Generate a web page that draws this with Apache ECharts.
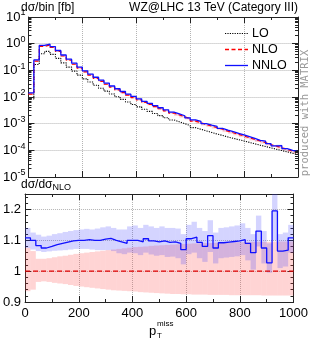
<!DOCTYPE html>
<html><head><meta charset="utf-8">
<script src="https://cdn.jsdelivr.net/npm/echarts@6/dist/echarts.min.js"></script>
<style>html,body{margin:0;padding:0;background:#fff}#c{width:311px;height:340px}</style>
</head><body><div id="c"></div>
<script>
const binEdges = [0,20,40,60,80,100,120,140,160,180,200,220,240,260,280,300,320,340,360,380,400,420,440,460,480,500,520,540,560,580,600,620,640,660,680,700,720,740,760,780,800,820,840,860,880,900,920,940,960,980,1000];

const loVals = [0.0085,0.166,0.417,0.513,0.398,0.282,0.191,0.132,0.0933,0.0661,
0.0479,0.0363,0.0275,0.0214,0.0166,0.0129,0.0102,0.00813,0.00646,0.00525,
0.00427,0.00347,0.00288,0.00240,0.00200,0.00166,0.00138,0.00117,0.00100,0.000851,
0.000708,0.000617,0.000537,0.000468,0.000407,0.000363,0.000316,0.000282,0.000251,0.000224,
0.000198,0.000176,0.000156,0.000139,0.000124,0.000110,0.0000980,0.0000875,0.0000780,0.0000695];

const nloVals = [0.0128,0.223,0.792,0.888,0.722,0.511,0.345,0.239,0.169,0.120,
0.0868,0.0658,0.0500,0.0388,0.0301,0.0234,0.0185,0.0147,0.0117,0.00955,
0.00774,0.00629,0.00523,0.00435,0.00362,0.00301,0.00250,0.00213,0.00182,0.00155,
0.00125,0.00109,0.000927,0.000810,0.000705,0.000615,0.000523,0.000455,0.000397,0.000345,
0.000295,0.000256,0.000223,0.000195,0.000165,0.000144,0.000125,0.000109,0.0000927,0.0000810];

const nnloVals = [0.0142,0.245,0.858,0.955,0.780,0.555,0.376,0.261,0.186,0.132,
0.0955,0.0725,0.0550,0.0427,0.0332,0.0259,0.0204,0.0161,0.0128,0.0105,
0.00851,0.00689,0.00578,0.00478,0.00396,0.00330,0.00273,0.00233,0.00198,0.00166,
0.00138,0.00121,0.00101,0.000875,0.000786,0.000661,0.000571,0.000498,0.000435,0.000379,
0.000325,0.000279,0.000236,0.000220,0.000177,0.000148,0.000149,0.000116,0.0000990,0.0000897];

// ratio panel (relative to NLO)
const ratioNNLO = [1.108,1.100,1.083,1.075,1.080,1.086,1.090,1.094,1.098,1.100,
1.100,1.102,1.100,1.100,1.104,1.106,1.100,1.095,1.090,1.100,
1.100,1.095,1.105,1.098,1.095,1.098,1.093,1.095,1.090,1.070,
1.105,1.110,1.093,1.080,1.115,1.075,1.092,1.094,1.096,1.098,
1.102,1.090,1.060,1.130,1.075,1.027,1.195,1.065,1.068,1.108];
const nnloBandHi = [1.140,1.125,1.118,1.112,1.115,1.120,1.123,1.127,1.130,1.133,
1.135,1.137,1.135,1.138,1.142,1.145,1.140,1.135,1.135,1.145,
1.148,1.140,1.150,1.145,1.140,1.145,1.140,1.140,1.138,1.120,
1.150,1.160,1.140,1.130,1.165,1.125,1.140,1.142,1.145,1.148,
1.155,1.140,1.120,1.180,1.130,1.090,1.300,1.120,1.125,1.150];
const nnloBandLo = [1.075,1.070,1.065,1.062,1.064,1.066,1.067,1.068,1.070,1.072,
1.072,1.072,1.070,1.068,1.068,1.068,1.065,1.058,1.055,1.060,
1.058,1.052,1.060,1.054,1.050,1.052,1.046,1.047,1.042,1.022,
1.055,1.060,1.042,1.030,1.062,1.025,1.042,1.044,1.046,1.048,
1.052,1.035,1.005,1.080,1.025,0.995,1.100,1.010,1.015,1.060];
const nloBandHi = [1.076,1.065,1.040,1.040,1.042,1.045,1.048,1.050,1.053,1.056,
1.058,1.060,1.062,1.064,1.066,1.068,1.070,1.072,1.074,1.076,
1.078,1.079,1.080,1.082,1.083,1.084,1.085,1.086,1.087,1.088,
1.089,1.090,1.090,1.091,1.091,1.092,1.092,1.093,1.093,1.094,
1.094,1.094,1.095,1.095,1.095,1.095,1.096,1.096,1.096,1.096];
const nloBandLo = [0.935,0.940,0.965,0.967,0.965,0.962,0.960,0.958,0.955,0.952,
0.950,0.948,0.946,0.944,0.942,0.940,0.938,0.937,0.936,0.935,
0.934,0.932,0.931,0.930,0.929,0.928,0.927,0.926,0.926,0.925,
0.925,0.924,0.924,0.924,0.923,0.923,0.923,0.923,0.922,0.922,
0.922,0.922,0.922,0.922,0.921,0.921,0.921,0.921,0.921,0.921];

const ratioTicks = [0.9,1.0,1.1,1.2];
const legendNames = ['LO','NLO','NNLO'];

const FONT = "'Liberation Sans', Arial, sans-serif";
const AX = '#222';
const C_LO = '#000', C_NLO = '#ff0000', C_NNLO = '#1010ff';
const DASH_LO = [1.2,1.2], DASH_NLO = [4,2.5];

function stepData(vals){
  const d = vals.map((v,i)=>[binEdges[i], v]);
  d.push([binEdges[binEdges.length-1], vals[vals.length-1]]);
  return d;
}
function bandSeries(xi, yi, lo, hi, color){
  return {
    type:'custom', xAxisIndex:xi, yAxisIndex:yi, silent:true, z:1,
    encode:{x:[0,1], y:[2,3]},
    data: lo.map((l,i)=>[binEdges[i], binEdges[i+1], l, hi[i]]),
    renderItem(params, api){
      const p1 = api.coord([api.value(0), api.value(3)]);
      const p2 = api.coord([api.value(1), api.value(2)]);
      const cs = params.coordSys;
      const r = echarts.graphic.clipRectByRect(
        {x:p1[0], y:p1[1], width:p2[0]-p1[0], height:p2[1]-p1[1]},
        {x:cs.x, y:cs.y, width:cs.width, height:cs.height});
      if(!r) return;
      return {type:'rect', shape:r, style:{fill:color}};
    }
  };
}
// minor log ticks (2..9 x 10^n) for main panel frame
const logMinor = [];
for (let n=-5; n<=0; n++) for (let m=2; m<=9; m++) logMinor.push([0, m*Math.pow(10,n)]);

function xAxisCfg(grid, pos, labels){
  return {gridIndex:grid, type:'value', min:0, max:1000, interval:200, position:pos,
    axisLine:{show:true, onZero:false, lineStyle:{color:AX, width:1}},
    axisTick:{show:true, inside:true, length:6, lineStyle:{color:AX}},
    minorTick:{show:true, splitNumber:2, length:3, lineStyle:{color:AX}},
    axisLabel:{show:labels, fontSize:13, fontFamily:FONT, color:'#000', margin:5, formatter:(v)=>String(v)},
    splitLine:{show:pos==='bottom', lineStyle:{type:'dotted', color:'#b4b4b4', width:1}}
  };
}
function logAxisCfg(pos){
  return {gridIndex:0, type:'log', logBase:10, min:1e-5, max:10, splitNumber:6, position:pos,
    axisLine:{show:true, onZero:false, lineStyle:{color:AX, width:1}},
    axisTick:{show:true, inside:true, length:6, lineStyle:{color:AX}},
    minorTick:{show:false},
    axisLabel:{show:pos==='left', margin:3, fontFamily:FONT, color:'#000',
      formatter:(v)=>'{b|10}{s|'+Math.round(Math.log10(v))+'}',
      rich:{b:{fontSize:13, lineHeight:13, fontFamily:FONT, color:'#000'},
            s:{fontSize:9, lineHeight:9, padding:[0,0,8,0], fontFamily:FONT, color:'#000'}}},
    splitLine:{show:pos==='left', lineStyle:{type:'dotted', color:'#b4b4b4', width:1}}
  };
}
function ratioAxisCfg(pos){
  return {gridIndex:1, type:'value', min:0.9, max:1.25, interval:0.1, position:pos,
    axisLine:{show:true, onZero:false, lineStyle:{color:AX, width:1}},
    axisTick:{show:true, inside:true, length:6, lineStyle:{color:AX}},
    minorTick:{show:true, splitNumber:5, length:3, lineStyle:{color:AX}},
    axisLabel:{show:pos==='left', margin:4, fontSize:13, fontFamily:FONT, color:'#000',
      formatter:(v)=>{ const hit = ratioTicks.find(t=>Math.abs(t-v)<1e-6); return hit===undefined?'':String(+hit.toFixed(1)); }},
    splitLine:{show:pos==='left', lineStyle:{type:'dotted', color:'#b4b4b4', width:1}}
  };
}

// manual legend (line samples + labels)
const legendGraphics = [
  {type:'line', id:'lgLO', z:10, shape:{x1:225, y1:33.5, x2:248, y2:33.5}, style:{stroke:C_LO, lineWidth:1.1, lineDash:DASH_LO}},
  {type:'line', id:'lgNLO', z:10, shape:{x1:225, y1:49.5, x2:248, y2:49.5}, style:{stroke:C_NLO, fill:null, lineWidth:1.3, lineDash:DASH_NLO}},
  {type:'line', id:'lgNNLO', z:10, shape:{x1:225, y1:65.5, x2:248, y2:65.5}, style:{stroke:C_NNLO, lineWidth:1.3}}
];
legendNames.forEach((nm,i)=>{
  legendGraphics.push({type:'text', id:'lgt'+i, x:252, y:33.5 + i*16, z:10, style:{text:nm, font:"12.5px 'Liberation Sans', Arial, sans-serif", fill:'#000', verticalAlign:'middle', align:'left'}});
});

const chart = echarts.init(document.getElementById('c'), null, {renderer:'canvas'});
chart.setOption({
  animation:false,
  backgroundColor:'#fff',
  textStyle:{fontFamily:FONT},
  grid:[
    {left:21, top:17, width:277, height:160},
    {left:21, top:194, width:277, height:108}
  ],
  xAxis:[xAxisCfg(0,'bottom',false), xAxisCfg(0,'top',false), xAxisCfg(1,'bottom',true), xAxisCfg(1,'top',false)],
  yAxis:[logAxisCfg('left'), logAxisCfg('right'), ratioAxisCfg('left'), ratioAxisCfg('right')],
  graphic:[
    {type:'text', left:21, top:2, style:{text:'dσ/bin [fb]', font:"12px 'Liberation Sans', Arial, sans-serif", fill:'#000'}},
    {type:'text', right:13, top:2, style:{text:'WZ@LHC 13 TeV (Category III)', font:"12px 'Liberation Sans', Arial, sans-serif", fill:'#000'}},
    {type:'text', left:21, top:179, style:{text:'dσ/dσ{sub|NLO}', font:"12px 'Liberation Sans', Arial, sans-serif", fill:'#000',
      rich:{sub:{fontSize:9, fontFamily:FONT, padding:[6,0,0,0], fill:'#000'}}}},
    {type:'text', x:149, y:331, style:{text:'p', font:"13px 'Liberation Sans', Arial, sans-serif", fill:'#000', verticalAlign:'middle', align:'left'}},
    {type:'text', x:157, y:336, style:{text:'T', font:"8px 'Liberation Sans', Arial, sans-serif", fill:'#000', verticalAlign:'middle', align:'left'}},
    {type:'text', x:157, y:324, style:{text:'miss', font:"8px 'Liberation Sans', Arial, sans-serif", fill:'#000', verticalAlign:'middle', align:'left'}},
    {type:'text', x:305, y:113, rotation:Math.PI/2, style:{text:'produced with MATRIX', font:"10.5px 'DejaVu Sans Mono', monospace", fill:'#999', align:'center', verticalAlign:'middle'}}
  ].concat(legendGraphics),
  series:[
    bandSeries(0,0, nloVals.map((v,i)=>v*nloBandLo[i]), nloVals.map((v,i)=>v*nloBandHi[i]), 'rgba(255,60,60,0.22)'),
    bandSeries(0,0, nloVals.map((v,i)=>v*nnloBandLo[i]), nloVals.map((v,i)=>v*nnloBandHi[i]), 'rgba(60,60,255,0.22)'),
    {name:'LO', type:'line', step:'end', xAxisIndex:0, yAxisIndex:0, data:stepData(loVals), showSymbol:false, symbol:'none', z:3,
      lineStyle:{color:C_LO, width:1.1, type:DASH_LO}},
    {name:'NLO', type:'line', step:'end', xAxisIndex:0, yAxisIndex:0, data:stepData(nloVals), showSymbol:false, symbol:'none', z:4,
      lineStyle:{color:C_NLO, width:1.2, type:DASH_NLO}},
    {name:'NNLO', type:'line', step:'end', xAxisIndex:0, yAxisIndex:0, data:stepData(nnloVals), showSymbol:false, symbol:'none', z:5,
      lineStyle:{color:C_NNLO, width:1.3}},
    {type:'custom', xAxisIndex:0, yAxisIndex:0, silent:true, z:6, encode:{x:0, y:1}, data:logMinor,
      renderItem(params, api){
        const p = api.coord([0, api.value(1)]);
        const cs = params.coordSys;
        const y = Math.round(p[1]-0.5)+0.5;
        return {type:'group', children:[
          {type:'line', shape:{x1:cs.x, y1:y, x2:cs.x+3, y2:y}, style:{stroke:AX, lineWidth:1}},
          {type:'line', shape:{x1:cs.x+cs.width-3, y1:y, x2:cs.x+cs.width, y2:y}, style:{stroke:AX, lineWidth:1}}
        ]};
      }},
    bandSeries(2,2, nloBandLo, nloBandHi, 'rgba(255,60,60,0.22)'),
    bandSeries(2,2, nnloBandLo, nnloBandHi, 'rgba(60,60,255,0.22)'),
    {name:'NLO/NLO', type:'line', xAxisIndex:2, yAxisIndex:2, data:[[0,1],[1000,1]], showSymbol:false, symbol:'none', z:4,
      lineStyle:{color:'#e00000', width:1.2, type:[5,3]}},
    {name:'NNLO/NLO', type:'line', step:'end', xAxisIndex:2, yAxisIndex:2, data:stepData(ratioNNLO), showSymbol:false, symbol:'none', z:5,
      lineStyle:{color:C_NNLO, width:1.3}}
  ]
});
</script></body></html>
